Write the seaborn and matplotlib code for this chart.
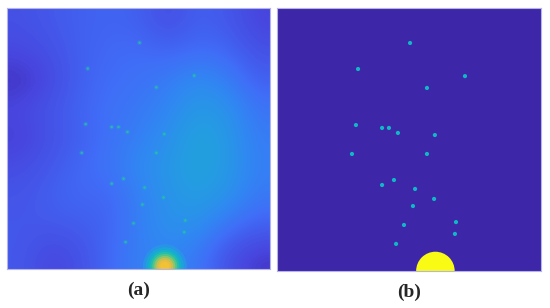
import numpy as np
import pandas as pd
import matplotlib
matplotlib.use("Agg")
import matplotlib.pyplot as plt
import seaborn as sns
from matplotlib.colors import LinearSegmentedColormap
from matplotlib.patches import Ellipse

# Sensor positions (percent of panel width / height, y measured from the top)
sensor_x = [50.4, 30.7, 71.2, 56.8, 29.9, 39.8, 42.4, 45.8, 59.8, 28.4,
            56.8, 44.3, 39.8, 52.3, 59.5, 51.5, 48.1, 67.8, 67.4, 45.1]
sensor_y = [13.3, 23.2, 25.9, 30.4, 44.5, 45.6, 45.6, 47.5, 48.3, 55.5,
            55.5, 65.4, 67.3, 68.8, 72.6, 75.3, 82.5, 81.4, 85.9, 89.7]

# Source location and radius of the bright region (percent units)
source_x = 60.0
source_y = 100.0
source_r = 7.3

# Coarse reading of the reconstructed field in panel (a), rows top -> bottom
field_a = [
    [0.08, 0.10, 0.12, 0.13, 0.12, 0.07, 0.12, 0.10, 0.05],
    [0.06, 0.08, 0.12, 0.14, 0.15, 0.13, 0.15, 0.14, 0.08],
    [0.02, 0.06, 0.12, 0.15, 0.16, 0.19, 0.24, 0.20, 0.12],
    [0.06, 0.09, 0.13, 0.16, 0.18, 0.22, 0.28, 0.26, 0.17],
    [0.04, 0.08, 0.12, 0.16, 0.20, 0.25, 0.31, 0.28, 0.19],
    [0.07, 0.10, 0.14, 0.17, 0.23, 0.27, 0.31, 0.28, 0.20],
    [0.09, 0.12, 0.14, 0.13, 0.20, 0.26, 0.29, 0.26, 0.18],
    [0.10, 0.10, 0.11, 0.13, 0.20, 0.25, 0.25, 0.17, 0.12],
    [0.10, 0.05, 0.08, 0.14, 0.20, 0.22, 0.18, 0.08, 0.03],
]

# glow around the source in panel (a): colour level per ring, ring radius (px)
glow_levels = [0.30, 0.38, 0.46, 0.56, 0.66, 0.76, 0.84, 0.88, 0.90]
glow_radii = [22, 19, 16.5, 14.5, 12.5, 10.5, 8.5, 6.5, 4.5]

labels = ["(a)", "(b)"]

# approximate parula
parula = LinearSegmentedColormap.from_list("parula", [
    (0.00, (0.2422, 0.1504, 0.6603)),
    (0.05, (0.2800, 0.2700, 0.8700)),
    (0.15, (0.2500, 0.4300, 0.9700)),
    (0.22, (0.1900, 0.5300, 0.9500)),
    (0.30, (0.1300, 0.6300, 0.8700)),
    (0.40, (0.0600, 0.7100, 0.8000)),
    (0.50, (0.0800, 0.7600, 0.7000)),
    (0.60, (0.2500, 0.7900, 0.5500)),
    (0.70, (0.5500, 0.8000, 0.4000)),
    (0.80, (0.8500, 0.7600, 0.2800)),
    (0.87, (0.9900, 0.7200, 0.2200)),
    (0.94, (0.9800, 0.8500, 0.1500)),
    (1.00, (0.9769, 0.9839, 0.0805)),
])

sns.set_style("white")
serif = ["Liberation Serif", "DejaVu Serif"]
plt.rcParams["font.family"] = serif

df = pd.DataFrame({"x": sensor_x, "y": sensor_y})

fig = plt.figure(figsize=(5.5, 3.08), dpi=100)
ax_a = fig.add_axes([7 / 550, 1 - 269 / 308, 263 / 550, 261 / 308])
ax_b = fig.add_axes([277 / 550, 1 - 271 / 308, 264 / 550, 263 / 308])

# panel (a): smooth reconstructed field
ax_a.imshow(np.array(field_a), cmap=parula, vmin=0, vmax=1,
            extent=[0, 100, 100, 0], aspect="auto", interpolation="bicubic")
for lev, r in zip(glow_levels, glow_radii):
    ax_a.add_patch(Ellipse((source_x, source_y - 1), 2 * r / 263 * 100,
                           2 * r / 261 * 100, color=parula(lev),
                           alpha=0.6, lw=0))
sns.scatterplot(data=df, x="x", y="y", ax=ax_a, s=12, color=parula(0.45),
                alpha=0.3, edgecolor="none", legend=False)
sns.scatterplot(data=df, x="x", y="y", ax=ax_a, s=3, color=parula(0.58),
                alpha=0.65, edgecolor="none", legend=False)

# panel (b): ground truth
ax_b.set_facecolor(parula(0.0))
sns.scatterplot(data=df, x="x", y="y", ax=ax_b, s=9, color=parula(0.42),
                edgecolor="none", legend=False)
ax_b.add_patch(Ellipse((source_x, source_y), 2 * source_r,
                       2 * source_r * 264 / 263, color=parula(1.0), lw=0))

for ax, lab in zip([ax_a, ax_b], labels):
    ax.set_xlim(0, 100)
    ax.set_ylim(100, 0)
    ax.set_xticks([])
    ax.set_yticks([])
    ax.set_xlabel("")
    ax.set_ylabel("")
    for sp in ax.spines.values():
        sp.set_color("#b4b4e6")
        sp.set_linewidth(0.8)
    ax.text(0.5, -0.08, lab, transform=ax.transAxes, ha="center", va="center",
            fontsize=14, fontweight="bold", family=serif)

fig.savefig("out.png", dpi=100)
